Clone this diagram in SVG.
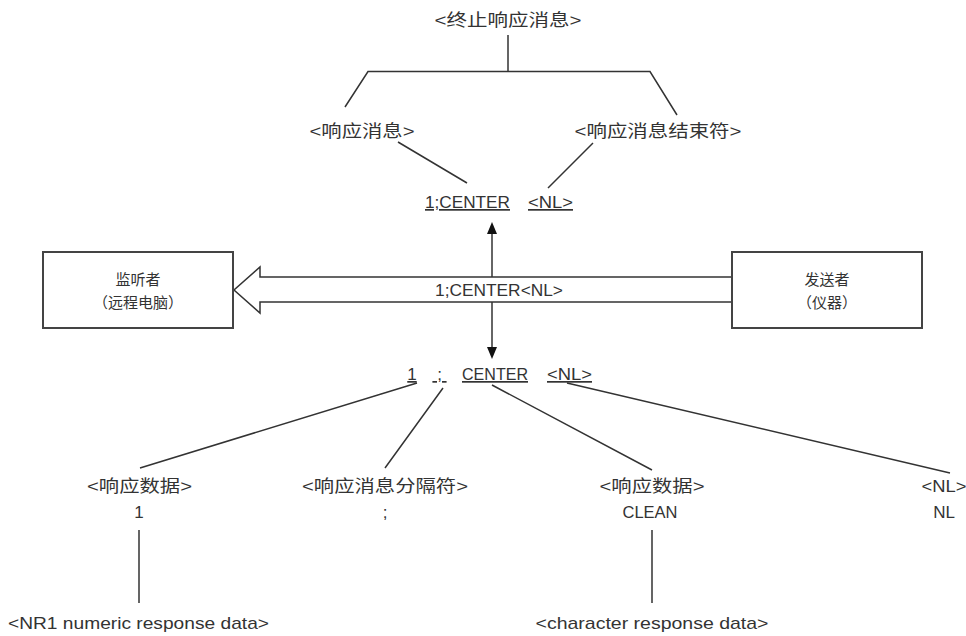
<svg xmlns="http://www.w3.org/2000/svg" width="966" height="636" viewBox="0 0 966 636">
<style>
.t{font-family:"Liberation Sans","Noto Sans CJK SC",sans-serif;font-size:17px;fill:#333;text-anchor:middle}
.s{font-size:15px}
.u{text-decoration:underline}
.ln{stroke:#333;stroke-width:1.5;fill:none}
</style>
<defs>
<marker id="ah" viewBox="0 0 12 10" refX="0" refY="5" markerWidth="12" markerHeight="10" markerUnits="userSpaceOnUse" orient="auto">
<path d="M0,0 L12,5 L0,10 Z" fill="#111"/>
</marker>
</defs>
<rect width="966" height="636" fill="#fff"/>
<g id="connectors">
<path class="ln" d="M508,35 V71.5 M345,107 L368,71.5 H650 L677,115"/>
<path class="ln" d="M398,142 L467,183 M593,143 L548,188"/>
<path class="ln" d="M492,277 V234" marker-end="url(#ah)"/>
<path class="ln" d="M492,302 V347" marker-end="url(#ah)"/>
<path class="ln" d="M417,383 L140,468 M443,388 L385,468 M492,385 L652,470 M567,383 L950,473"/>
<path class="ln" d="M139,530 V603 M652,530 V603"/>
</g>
<g id="flow-arrow">
<path d="M732,277 H260 V267 L234,290 L260,313 V302 H732" fill="#fff" stroke="#333" stroke-width="1.5"/>
<text class="t" x="499" y="296" textLength="128" lengthAdjust="spacingAndGlyphs">1;CENTER&lt;NL&gt;</text>
</g>
<g id="listener">
<rect x="43" y="252" width="190" height="76" fill="#fff" stroke="#444" stroke-width="2"/>
<text class="t s" x="138" y="285">监听者</text>
<text class="t s" x="138" y="308">（远程电脑）</text>
</g>
<g id="sender">
<rect x="732" y="252" width="190" height="76" fill="#fff" stroke="#444" stroke-width="2"/>
<text class="t s" x="827" y="285">发送者</text>
<text class="t s" x="827" y="308">（仪器）</text>
</g>
<g id="terminated-response">
<text class="t" x="508" y="26" textLength="147" lengthAdjust="spacingAndGlyphs">&lt;终止响应消息&gt;</text>
</g>
<g id="response-message">
<text class="t" x="362" y="137" textLength="105" lengthAdjust="spacingAndGlyphs">&lt;响应消息&gt;</text>
</g>
<g id="response-terminator">
<text class="t" x="658" y="137" textLength="167" lengthAdjust="spacingAndGlyphs">&lt;响应消息结束符&gt;</text>
</g>
<g id="top-string">
<text class="t u" x="467.5" y="208" textLength="85" lengthAdjust="spacingAndGlyphs">1;CENTER</text>
<text class="t u" x="550.5" y="208" textLength="45" lengthAdjust="spacingAndGlyphs">&lt;NL&gt;</text>
</g>
<g id="bottom-string">
<text class="t u" x="412" y="380">1</text>
<text class="t u" x="439.5" y="380">&#160;;&#160;</text>
<text class="t u" x="495" y="380" textLength="66" lengthAdjust="spacingAndGlyphs">CENTER</text>
<text class="t u" x="569.5" y="380" textLength="45" lengthAdjust="spacingAndGlyphs">&lt;NL&gt;</text>
</g>
<g id="data-1">
<text class="t" x="139.5" y="492" textLength="105" lengthAdjust="spacingAndGlyphs">&lt;响应数据&gt;</text>
<text class="t" x="139" y="518">1</text>
</g>
<g id="separator">
<text class="t" x="385" y="492" textLength="166" lengthAdjust="spacingAndGlyphs">&lt;响应消息分隔符&gt;</text>
<text class="t" x="385" y="518">;</text>
</g>
<g id="data-clean">
<text class="t" x="652" y="492" textLength="105" lengthAdjust="spacingAndGlyphs">&lt;响应数据&gt;</text>
<text class="t" x="650" y="518" textLength="55" lengthAdjust="spacingAndGlyphs">CLEAN</text>
</g>
<g id="nl">
<text class="t" x="944" y="492" textLength="45" lengthAdjust="spacingAndGlyphs">&lt;NL&gt;</text>
<text class="t" x="944" y="518">NL</text>
</g>
<g id="nr1">
<text class="t" x="138.5" y="629" textLength="261" lengthAdjust="spacingAndGlyphs">&lt;NR1 numeric response data&gt;</text>
</g>
<g id="character-data">
<text class="t" x="652" y="629" textLength="233" lengthAdjust="spacingAndGlyphs">&lt;character response data&gt;</text>
</g>
</svg>
